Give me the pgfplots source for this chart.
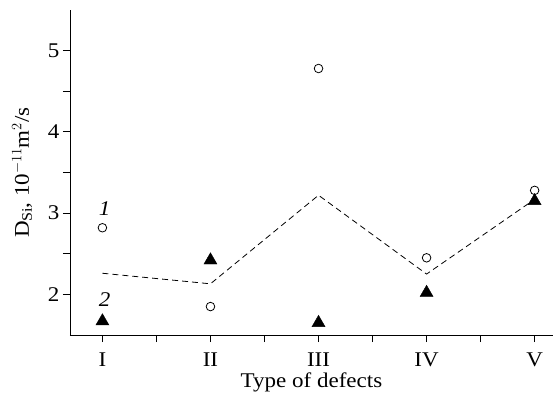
\documentclass[border=0pt]{standalone}
\usepackage{fontspec}
\setmainfont{Liberation Serif}[FakeStretch=1.1]
\usepackage{pgfplots}
\pgfplotsset{compat=1.18}
\begin{document}
\begin{tikzpicture}
\begin{axis}[
  scale only axis,
  width=483bp, height=325bp,
  xmin=-0.3, xmax=4.17,
  ymin=1.5, ymax=5.5,
  axis x line=bottom, axis y line=left,
  axis line style={-, line width=1pt},
  xtick={0,1,2,3,4},
  xticklabels={I,II,III,IV,V},
  minor xtick={0.5,1.5,2.5,3.5},
  ytick={2,3,4,5},
  minor ytick={2.5,3.5,4.5},
  tick align=outside,
  major tick length=7bp, minor tick length=7bp,
  tick style={line width=0.9pt, black},
  ticklabel style={font=\fontsize{21}{23}\selectfont},
  xticklabel style={yshift=-7bp},
  /pgf/number format/assume math mode=true,
  xlabel={Type of defects},
  ylabel={D$_{\mathrm{Si}}$, 10$^{-11}$m$^2$/s},
  label style={font=\fontsize{21}{23}\selectfont},
  xlabel style={at={(axis description cs:0.5,0)}, anchor=base, yshift=-52bp},
  ylabel style={at={(axis description cs:0,0.5)}, anchor=center, yshift=48bp},
  clip=false,
]
\addplot[only marks, mark=o, mark size=4.3bp, mark options={line width=0.8pt}] coordinates {
  (0,2.82) (1,1.85) (2,4.78) (3,2.45) (4,3.28)};
\addplot[only marks, mark=triangle*, mark size=7.5bp, black] coordinates {
  (0,1.67) (1,2.42) (2,1.65) (3,2.02) (4,3.15)};
\addplot[line width=0.8pt, dash pattern=on 6bp off 4bp] coordinates {
  (0,2.26) (1,2.13) (2,3.22) (3,2.25) (4,3.17)};
\node[font=\fontsize{21}{23}\selectfont\itshape] at (axis cs:0.02,3.06) {1};
\node[font=\fontsize{21}{23}\selectfont\itshape] at (axis cs:0.02,1.93) {2};
\coordinate (sw) at (rel axis cs:0,0);
\coordinate (ne) at (rel axis cs:1,1);
\end{axis}
\pgfresetboundingbox
\path ([shift={(-70bp,-61bp)}]sw) rectangle ([shift={(0bp,10bp)}]ne);
\end{tikzpicture}
\end{document}
